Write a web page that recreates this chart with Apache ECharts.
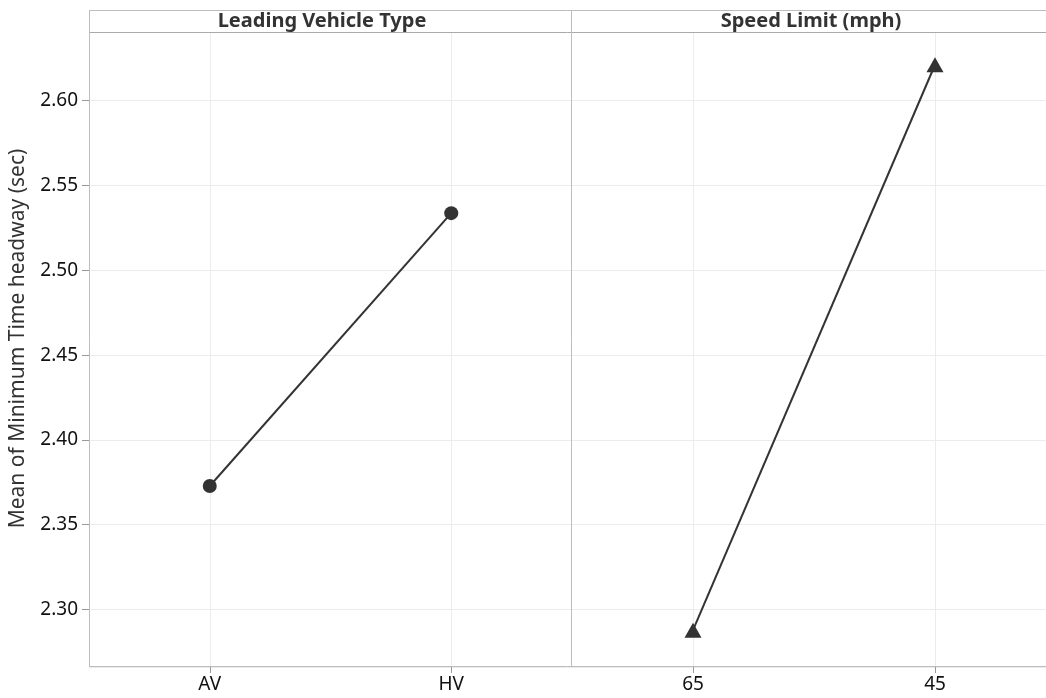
<!DOCTYPE html>
<html><head><meta charset="utf-8">
<script src="https://cdn.jsdelivr.net/npm/echarts@6/dist/echarts.min.js"></script>
<style>html,body{margin:0;padding:0;background:#fff}#c{width:1046px;height:698px}</style>
</head><body><div id="c"></div>
<script>
var panelTitles = ['Leading Vehicle Type', 'Speed Limit (mph)'];
var vehicleCats = ['AV', 'HV'];
var vehicleMeans = [2.3728, 2.5337];
var speedCats = ['65', '45'];
var speedMeans = [2.2878, 2.6212];
var yTitle = 'Mean of Minimum Time headway (sec)';
var yMin = 2.2661, yMax = 2.6405;

var FONT = '"Noto Sans", "Open Sans", sans-serif';
var BORDER = '#bdbdbd';
var chart = echarts.init(document.getElementById('c'));

function xAxisCfg(gi, cats) {
  return {
    type: 'category', gridIndex: gi, data: cats, boundaryGap: true,
    axisLine: { show: false },
    axisTick: { show: true, alignWithLabel: true, length: 6, lineStyle: { color: '#999' } },
    axisLabel: { fontSize: 19, color: '#111', fontFamily: FONT, margin: 8 },
    splitLine: { show: true, alignWithLabel: true, lineStyle: { color: '#ececec', width: 1 } }
  };
}
function yAxisCfg(gi) {
  return {
    type: 'value', gridIndex: gi, min: yMin, max: yMax, splitNumber: 7,
    minInterval: 0.05, maxInterval: 0.05,
    name: gi === 0 ? yTitle : '', nameLocation: 'middle', nameGap: 60,
    nameTextStyle: { fontSize: 21, color: '#333', fontFamily: FONT, padding: [0, 0, 0, 22] },
    axisLine: { show: false },
    axisTick: { show: gi === 0, length: 7, lineStyle: { color: '#999' } },
    axisLabel: { show: gi === 0, fontSize: 19, color: '#111', fontFamily: FONT, margin: 11,
      showMinLabel: false, showMaxLabel: false,
      formatter: function (v) { return v.toFixed(2); } },
    splitLine: { show: true, lineStyle: { color: '#ececec', width: 1 } }
  };
}

chart.setOption({
  animation: false,
  backgroundColor: '#fff',
  grid: [
    { left: 89, top: 32, width: 483, bottom: 31, outerBoundsMode: 'none' },
    { left: 572, top: 32, width: 484, bottom: 31, outerBoundsMode: 'none' }
  ],
  xAxis: [xAxisCfg(0, vehicleCats), xAxisCfg(1, speedCats)],
  yAxis: [yAxisCfg(0), yAxisCfg(1)],
  series: [
    { type: 'line', xAxisIndex: 0, yAxisIndex: 0, data: vehicleMeans,
      symbol: 'circle', symbolSize: 14, showAllSymbol: true,
      lineStyle: { color: '#333', width: 2 }, itemStyle: { color: '#333' } },
    { type: 'line', xAxisIndex: 1, yAxisIndex: 1, data: speedMeans,
      symbol: 'triangle', symbolSize: [17, 15], showAllSymbol: true,
      lineStyle: { color: '#333', width: 2 }, itemStyle: { color: '#333' } }
  ],
  graphic: [
    { type: 'line', shape: { x1: 89, y1: 10.5, x2: 1046, y2: 10.5 }, style: { stroke: BORDER, lineWidth: 1 }, z: 10 },
    { type: 'line', shape: { x1: 89, y1: 32.5, x2: 1046, y2: 32.5 }, style: { stroke: '#aaa', lineWidth: 1 }, z: 10 },
    { type: 'line', shape: { x1: 89.5, y1: 10.5, x2: 89.5, y2: 667 }, style: { stroke: BORDER, lineWidth: 1 }, z: 10 },
    { type: 'line', shape: { x1: 571.5, y1: 10.5, x2: 571.5, y2: 667 }, style: { stroke: BORDER, lineWidth: 1 }, z: 10 },
    { type: 'line', shape: { x1: 89, y1: 666.5, x2: 1046, y2: 666.5 }, style: { stroke: BORDER, lineWidth: 1 }, z: 10 },
    { type: 'text', x: 322, y: 21.5, style: { text: panelTitles[0], font: 'bold 20px ' + FONT, fill: '#333', textAlign: 'center', textVerticalAlign: 'middle' }, z: 11 },
    { type: 'text', x: 811, y: 21.5, style: { text: panelTitles[1], font: 'bold 20px ' + FONT, fill: '#333', textAlign: 'center', textVerticalAlign: 'middle' }, z: 11 }
  ]
});
</script></body></html>
